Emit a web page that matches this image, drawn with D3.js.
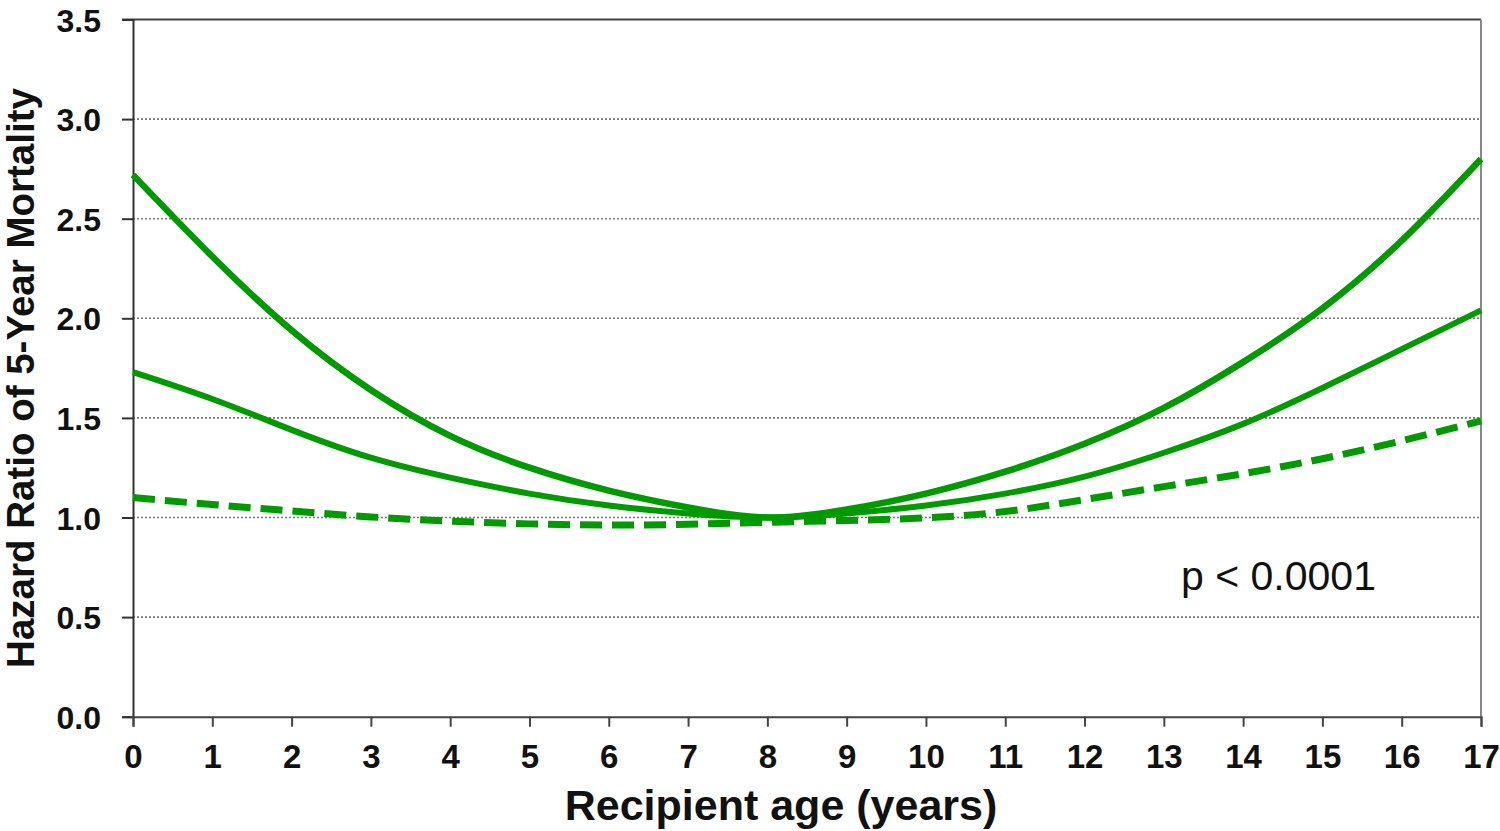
<!DOCTYPE html>
<html>
<head>
<meta charset="utf-8">
<script src="https://cdn.jsdelivr.net/npm/d3@7"></script>
<style>
  html, body { margin: 0; padding: 0; background: #fff; }
  svg { display: block; }
</style>
</head>
<body>
<svg id="chart" width="1500" height="831"></svg>
<script>
const ages = [0,1,2,3,4,5,6,7,8,9,10,11,12,13,14,15,16,17];
const upperHR  = [2.72, 2.31, 1.94, 1.64, 1.41, 1.25, 1.135, 1.05, 1.00, 1.04, 1.12, 1.23, 1.37, 1.55, 1.78, 2.05, 2.39, 2.80];
const middleHR = [1.73, 1.595, 1.44, 1.30, 1.20, 1.12, 1.06, 1.02, 1.00, 1.02, 1.06, 1.12, 1.205, 1.325, 1.47, 1.65, 1.845, 2.04];
const dashedHR = [1.10, 1.065, 1.033, 1.003, 0.982, 0.968, 0.962, 0.966, 0.976, 0.985, 0.998, 1.03, 1.09, 1.155, 1.22, 1.295, 1.385, 1.485];
const yTicks = [0, 0.5, 1.0, 1.5, 2.0, 2.5, 3.0, 3.5];
const xTicks = ages;
const xTitle = "Recipient age (years)";
const yTitle = "Hazard Ratio of 5-Year Mortality";
const annotation = "p < 0.0001";

const svg = d3.select("#chart");
const mLeft = 133, mRight = 1481, mTop = 19.5, mBottom = 716.7;
const x = d3.scaleLinear().domain([0, 17]).range([mLeft, mRight]);
const y = d3.scaleLinear().domain([0, 3.5]).range([mBottom, mTop]);
const green = "#009a00";

// gridlines (dotted)
svg.append("g").selectAll("line").data(yTicks.filter(d => d > 0 && d < 3.5)).join("line")
  .attr("x1", mLeft).attr("x2", mRight)
  .attr("y1", d => y(d)).attr("y2", d => y(d))
  .attr("stroke", "#777").attr("stroke-width", 1.6).attr("stroke-dasharray", "2,2");

// top and right border
svg.append("line").attr("x1", mLeft - 11).attr("x2", mRight).attr("y1", y(3.5)).attr("y2", y(3.5))
  .attr("stroke", "#444").attr("stroke-width", 2);
svg.append("line").attr("x1", mRight).attr("x2", mRight).attr("y1", y(3.5)).attr("y2", mBottom)
  .attr("stroke", "#888").attr("stroke-width", 2);

// Y axis
const yAxis = d3.axisLeft(y).tickValues(yTicks).tickFormat(d3.format(".1f")).tickSize(11).tickPadding(21);
const gy = svg.append("g").attr("transform", `translate(${mLeft},0)`).call(yAxis);
gy.select(".domain").attr("stroke", "#333").attr("stroke-width", 2);
gy.selectAll(".tick line").attr("stroke", "#333").attr("stroke-width", 2);
gy.selectAll(".tick text")
  .attr("font-family", "Liberation Sans, Arial, sans-serif")
  .attr("font-weight", "bold").attr("font-size", 32).attr("fill", "#111")
  .attr("dy", "0.36em");

// X axis
const xAxis = d3.axisBottom(x).tickValues(xTicks).tickFormat(d3.format("d")).tickSize(10).tickPadding(18);
const gx = svg.append("g").attr("transform", `translate(0,${mBottom})`).call(xAxis);
gx.select(".domain").attr("stroke", "#444").attr("stroke-width", 2);
gx.selectAll(".tick line").attr("stroke", "#444").attr("stroke-width", 2);
gx.selectAll(".tick text")
  .attr("font-family", "Liberation Sans, Arial, sans-serif")
  .attr("font-weight", "bold").attr("font-size", 33).attr("fill", "#111");

// Lines
const line = d3.line().x((d, i) => x(ages[i])).y(d => y(d)).curve(d3.curveNatural);
svg.append("path").datum(dashedHR).attr("d", line)
  .attr("fill", "none").attr("stroke", green).attr("stroke-width", 7)
  .attr("stroke-dasharray", "22,10");
svg.append("path").datum(middleHR).attr("d", line)
  .attr("fill", "none").attr("stroke", green).attr("stroke-width", 6);
svg.append("path").datum(upperHR).attr("d", line)
  .attr("fill", "none").attr("stroke", green).attr("stroke-width", 6.5);

// Titles
svg.append("text").attr("x", 781).attr("y", 820).attr("text-anchor", "middle")
  .attr("font-family", "Liberation Sans, Arial, sans-serif").attr("font-weight", "bold")
  .attr("font-size", 43).attr("fill", "#111").text(xTitle);
svg.append("text").attr("transform", "translate(34,378) rotate(-90)").attr("text-anchor", "middle")
  .attr("font-family", "Liberation Sans, Arial, sans-serif").attr("font-weight", "bold")
  .attr("font-size", 38.5).attr("fill", "#111").text(yTitle);
svg.append("text").attr("x", 1181).attr("y", 590)
  .attr("font-family", "Liberation Sans, Arial, sans-serif")
  .attr("font-size", 41).attr("fill", "#111").text(annotation);
</script>
</body>
</html>
